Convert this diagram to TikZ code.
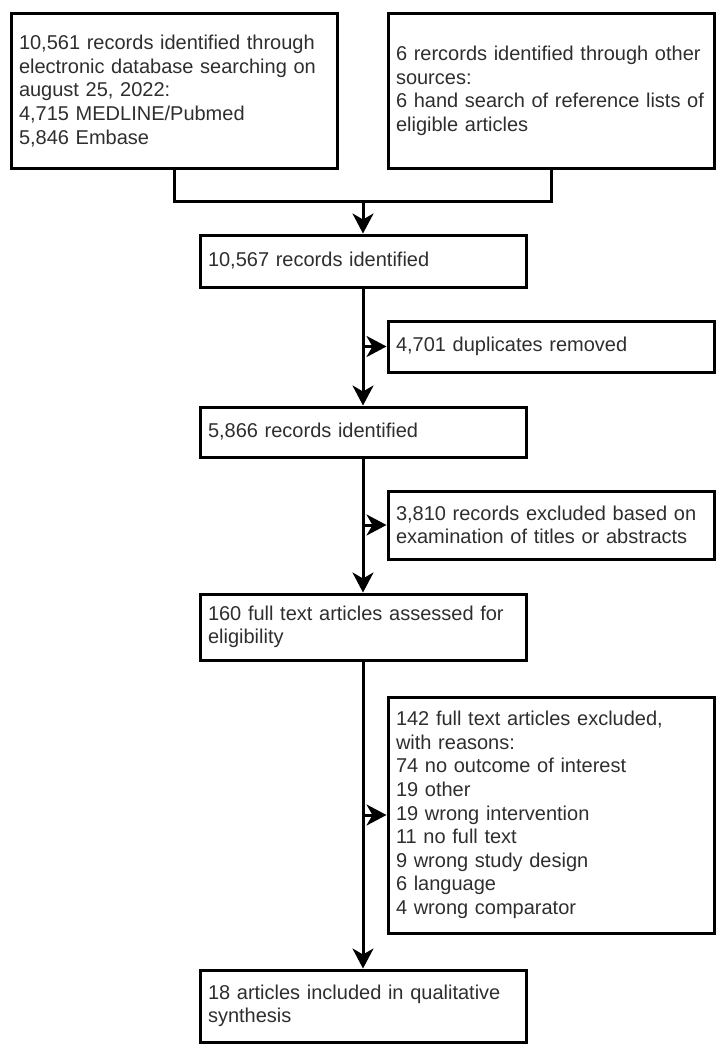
\documentclass[tikz,border=0pt]{standalone}
\usepackage{fontspec}
\setmainfont{Liberation Sans}
\usetikzlibrary{arrows.meta}
\begin{document}
\begin{tikzpicture}[x=1pt,y=-1pt,
  box/.style={draw=black,line width=3pt,inner sep=0pt,align=left,
    minimum width=326pt,text width=310pt,
    font=\fontsize{20}{23.6}\selectfont,text=black!82},
  conn/.style={line width=3pt,draw=black},
  arr/.style={conn,-{Stealth[length=20pt,width=21pt,inset=6pt]}}]
\useasboundingbox (0,0) rectangle (723,1049);
% boxes (centre x, centre y)
\node[box,minimum height=154pt] (b1) at (174,91)
  {10,561 records identified through\\electronic database searching on\\august 25, 2022:\\4,715 MEDLINE/Pubmed\\5,846 Embase};
\node[box,minimum height=154pt] (b2) at (551,91)
  {6 rercords identified through other\\sources:\\6 hand search of reference lists of\\eligible articles};
\node[box,minimum height=52pt] (b3) at (363,261)
  {10,567 records identified};
\node[box,minimum height=51pt] (b4) at (551,346.5)
  {4,701 duplicates removed};
\node[box,minimum height=50pt] (b5) at (363,432)
  {5,866 records identified};
\node[box,minimum height=68pt] (b6) at (551,525)
  {3,810 records excluded based on\\examination of titles or abstracts};
\node[box,minimum height=66pt] (b7) at (363,627)
  {160 full text articles assessed for\\eligibility};
\node[box,minimum height=236pt] (b8) at (551,815)
  {142 full text articles excluded,\\with reasons:\\74 no outcome of interest\\19 other\\19 wrong intervention\\11 no full text\\9 wrong study design\\6 language\\4 wrong comparator};
\node[box,minimum height=72pt] (b9) at (363,1006)
  {18 articles included in qualitative\\synthesis};
% connectors
\coordinate (m) at (363,201);
\draw[conn] (b1.south) -- (b1.south |- m) -- (b2.south |- m) -- (b2.south);
\draw[arr] (m) -- (b3.north);
\draw[arr] (b3.south) -- (b5.north);
\draw[arr] (b5.south) -- (b7.north);
\draw[arr] (b7.south) -- (b9.north);
\draw[arr] (b3.south |- b4.west) -- (b4.west);
\draw[arr] (b5.south |- b6.west) -- (b6.west);
\draw[arr] (b7.south |- b8.west) -- (b8.west);
\end{tikzpicture}
\end{document}
